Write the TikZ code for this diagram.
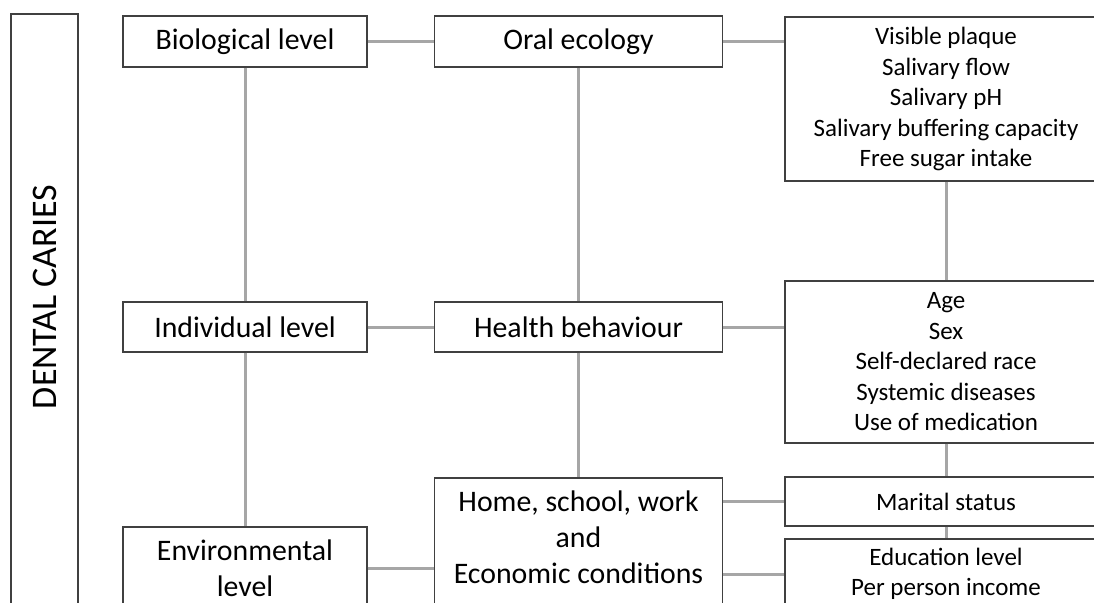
\documentclass[tikz,border=0pt]{standalone}
\usepackage{fontspec}
\setmainfont{Carlito}
\definecolor{boxgray}{HTML}{404040}
\definecolor{linkgray}{HTML}{A6A6A6}
\begin{document}
\begin{tikzpicture}[x=1pt,y=-1pt,
  box/.style={draw=boxgray, line width=1.1pt, inner sep=0pt, align=center, text=black},
  big/.style={font=\fontsize{29.8}{36}\selectfont},
  small/.style={font=\fontsize{25}{30.5}\selectfont},
  link/.style={draw=linkgray, line width=3pt}]
\useasboundingbox (0,0) rectangle (1094,602);
\clip (0,0) rectangle (1094,602);
% left column banner
\node[box, minimum width=67pt, minimum height=626pt] (dcbox) at (44.5,327) {};
\node[rotate=90, inner sep=0pt, font=\fontsize{36}{42}\selectfont] (dctext) at (44.5,297) {DENTAL CARIES};
% level boxes
\node[box, big, minimum width=244pt, minimum height=51pt] (bio) at (245,41.5) {Biological level};
\node[box, big, minimum width=244pt, minimum height=50pt] (ind) at (245,327) {Individual level};
\node[box, big, minimum width=244pt, minimum height=83pt] (env) at (245,568.5) {Environmental\\level};
% middle boxes
\node[box, big, minimum width=288pt, minimum height=51pt] (oral) at (578.5,41.5) {Oral ecology};
\node[box, big, minimum width=288pt, minimum height=50pt] (health) at (578.5,327) {Health behaviour};
\node[box, big, minimum width=288pt, minimum height=128pt, text depth=9pt] (home) at (578.5,542) {Home, school, work\\and\\Economic conditions};
% right boxes
\node[box, small, minimum width=322pt, minimum height=164pt] (vis) at (946,99) {Visible plaque\\Salivary flow\\Salivary pH\\Salivary buffering capacity\\Free sugar intake};
\node[box, small, minimum width=322pt, minimum height=162pt] (age) at (946,362) {Age\\Sex\\Self-declared race\\Systemic diseases\\Use of medication};
\node[box, small, minimum width=322pt, minimum height=49pt] (mar) at (946,501.5) {Marital status};
\node[box, small, minimum width=322pt, minimum height=70pt] (edu) at (946,574) {Education level\\Per person income};
% connectors
\draw[link] (bio) -- (oral);
\draw[link] (oral.east) -- (oral.east -| vis.west);
\draw[link] (bio) -- (ind);
\draw[link] (oral) -- (health);
\draw[link] (vis) -- (age);
\draw[link] (ind) -- (health);
\draw[link] (health.east) -- (health.east -| age.west);
\draw[link] (ind) -- (env);
\draw[link] (health) -- (home);
\draw[link] (age) -- (mar);
\draw[link] (mar) -- (edu);
\draw[link] (env.east) -- (env.east -| home.west);
\draw[link] (mar.west -| home.east) -- (mar.west);
\draw[link] (edu.west -| home.east) -- (edu.west);
\end{tikzpicture}
\end{document}
